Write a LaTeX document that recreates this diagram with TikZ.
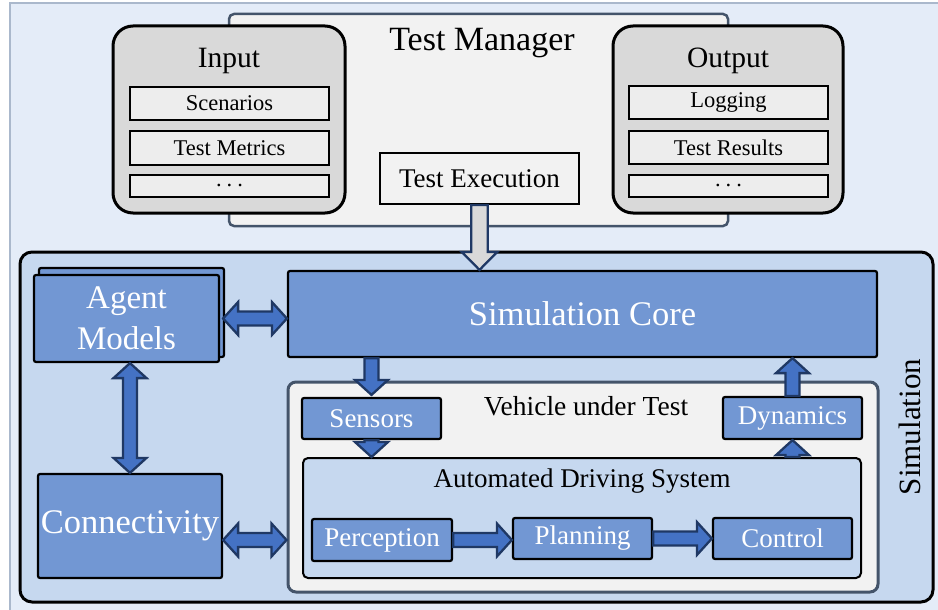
\documentclass[tikz,border=0pt]{standalone}
\usepackage{fontspec}
\setmainfont{Liberation Serif}
\usetikzlibrary{calc}
\definecolor{pagebg}{HTML}{E4ECF8}
\definecolor{frameline}{HTML}{AAB8CC}
\definecolor{slate}{HTML}{44546A}
\definecolor{lightgray}{HTML}{F2F2F2}
\definecolor{midgray}{HTML}{D9D9D9}
\definecolor{itemgray}{HTML}{EDEDED}
\definecolor{simfill}{HTML}{C6D8EF}
\definecolor{boxblue}{HTML}{7297D3}
\definecolor{arrowfill}{HTML}{4472C4}
\definecolor{arrowline}{HTML}{1F3864}
\newcommand\fsz[1]{\fontsize{#1}{#1}\selectfont}
\def\faw{7pt}\def\fah{16.5pt}\def\fal{15pt}
% single fat arrow from #2 to #3 (tip at #3)
\newcommand\fatarrow[3][]{%
  \path (#2) coordinate (faA) (#3) coordinate (faB);
  \path ($(faB)!\fal!(faA)$) coordinate (faH);
  \draw[fatstyle,#1] ($(faA)!\faw!90:(faB)$) -- ($(faH)!\faw!-90:(faA)$)
    -- ($(faH)!\fah!-90:(faA)$) -- (faB) -- ($(faH)!\fah!90:(faA)$)
    -- ($(faH)!\faw!90:(faA)$) -- ($(faA)!\faw!-90:(faB)$) -- cycle;}
% double fat arrow between #2 and #3
\newcommand\fatdarrow[3][]{%
  \path (#2) coordinate (faA) (#3) coordinate (faB);
  \path ($(faB)!\fal!(faA)$) coordinate (faH) ($(faA)!\fal!(faB)$) coordinate (faG);
  \draw[fatstyle,#1] (faA) -- ($(faG)!\fah!90:(faB)$) -- ($(faG)!\faw!90:(faB)$)
    -- ($(faH)!\faw!-90:(faA)$) -- ($(faH)!\fah!-90:(faA)$) -- (faB)
    -- ($(faH)!\fah!90:(faA)$) -- ($(faH)!\faw!90:(faA)$)
    -- ($(faG)!\faw!-90:(faB)$) -- ($(faG)!\fah!-90:(faB)$) -- cycle;}
\tikzset{
  fatstyle/.style={draw=arrowline, fill=arrowfill, line width=2.3pt, line join=miter},
  graybox/.style={draw=black, fill=midgray, line width=3pt, rounded corners=20pt, inner sep=0pt},
  itembox/.style={draw=black, fill=itemgray, line width=2pt, inner sep=0pt, font=\fsz{22.5}},
  bluebox/.style={draw=black, fill=boxblue, line width=2.2pt, rounded corners=2pt, inner sep=0pt, text=white, align=center},
  plain/.style={inner sep=0pt, align=center},
}
\begin{document}
\begin{tikzpicture}[x=1pt,y=-1pt]
\useasboundingbox (0,0) rectangle (938,610);
\fill[white] (0,0) rectangle (938,610);
\fill[pagebg] (10,3) rectangle (938,610);
\draw[frameline, line width=2.5pt] (10,610) -- (10,3) -- (938,3);

% Test manager
\node[draw=slate, fill=lightgray, line width=2.5pt, rounded corners=5pt, minimum width=499pt, minimum height=212pt, inner sep=0pt] (tm) at (478.5,120) {};
\node[plain, font=\fsz{34}] (tmlabel) at (482,43) {Test Manager};

\node[graybox, minimum width=232pt, minimum height=187pt] (in) at (229,119.5) {};
\node[plain, font=\fsz{29.5}] (inlabel) at (229,61) {Input};
\node[itembox, minimum width=199pt, minimum height=33pt] (scen) at (229.5,103.5) {Scenarios};
\node[itembox, minimum width=199pt, minimum height=34pt] (metr) at (229.5,148) {Test Metrics};
\node[itembox, minimum width=199pt, minimum height=22pt] (idots) at (229.5,186) {\raisebox{2pt}{.\hspace{5pt}.\hspace{5pt}.}};

\node[graybox, minimum width=230pt, minimum height=187pt] (out) at (728,119.5) {};
\node[plain, font=\fsz{29.5}] (outlabel) at (728,61) {Output};
\node[itembox, minimum width=199pt, minimum height=33pt] (log) at (728.5,102.5) {Logging};
\node[itembox, minimum width=199pt, minimum height=33pt] (res) at (728.5,147.5) {Test Results};
\node[itembox, minimum width=199pt, minimum height=22pt] (odots) at (728.5,186) {\raisebox{2pt}{.\hspace{5pt}.\hspace{5pt}.}};

\node[draw=black, fill=lightgray, line width=2pt, inner sep=0pt, minimum width=199pt, minimum height=51pt, font=\fsz{27}] (exec) at (479.5,178.5) {Test Execution};

% Simulation
\node[draw=black, fill=simfill, line width=3pt, rounded corners=12pt, minimum width=913pt, minimum height=350pt, inner sep=0pt] (simbg) at (476.5,427) {};
\node[plain, font=\fsz{31}, rotate=90] (simlabel) at (910,427) {Simulation};

\node[bluebox, minimum width=185pt, minimum height=89pt] (agentb) at (131.5,312.5) {};
\node[bluebox, minimum width=185pt, minimum height=87pt, font=\fontsize{33}{41}\selectfont] (agentf) at (126.5,318.5) {Agent\\Models};

\node[bluebox, minimum width=589pt, minimum height=86pt, font=\fsz{34.5}] (simc) at (582.5,314) {Simulation Core};
\node[bluebox, minimum width=184pt, minimum height=104pt, font=\fsz{34.5}] (conn) at (130,526) {Connectivity};

\node[draw=slate, fill=lightgray, line width=3pt, rounded corners=8pt, minimum width=590pt, minimum height=210pt, inner sep=0pt] (vut) at (583,487) {};
\node[plain, font=\fsz{27.5}] (vutlabel) at (586,406) {Vehicle under Test};

\node[bluebox, minimum width=139pt, minimum height=41pt, font=\fsz{27}] (sens) at (371.5,418.5) {Sensors};
\node[bluebox, minimum width=139pt, minimum height=42pt, font=\fsz{27}] (dyn) at (792.5,418) {Dynamics};

\node[draw=black, fill=simfill, line width=2pt, rounded corners=5pt, minimum width=558pt, minimum height=120pt, inner sep=0pt] (ads) at (582,518) {};
\node[plain, font=\fsz{27}] (adslabel) at (582,481) {Automated Driving System};

\node[bluebox, minimum width=140pt, minimum height=42pt, font=\fsz{27}] (perc) at (382,540) {Perception};
\node[bluebox, minimum width=139pt, minimum height=41pt, font=\fsz{27}] (plan) at (582.5,538.5) {Planning};
\node[bluebox, minimum width=139pt, minimum height=41pt, font=\fsz{27}] (ctrl) at (782.5,538.5) {Control};

% arrows
\def\faw{8.3pt}\def\fah{17.8pt}\def\fal{18pt}
\fatarrow[fill=midgray]{exec.south}{exec.south |- simc.north}
\def\faw{7pt}\def\fah{16.5pt}\def\fal{15pt}
\fatdarrow{$(agentf.east)+(3,0)$}{agentf.east -| simc.west}
\fatdarrow{agentf.south -| conn.north}{conn.north}
\fatdarrow{conn.east |- perc.east}{vut.west |- perc.east}
\fatarrow{sens.north |- simc.south}{$(sens.north)+(0,-2)$}
\fatarrow{sens.south}{sens.south |- ads.north}
\fatarrow{dyn.south |- ads.north}{dyn.south}
\fatarrow{dyn.north}{dyn.north |- simc.south}
\fatarrow{perc.east}{perc.east -| plan.west}
\fatarrow{plan.east}{ctrl.west}
\end{tikzpicture}
\end{document}
